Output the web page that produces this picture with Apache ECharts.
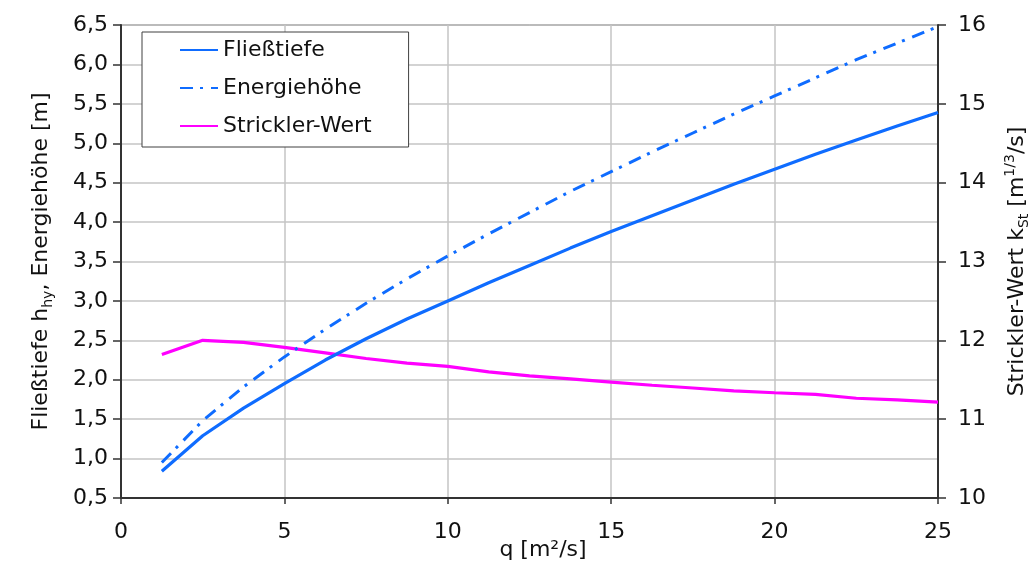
<!DOCTYPE html>
<html>
<head>
<meta charset="utf-8">
<script src="https://cdn.jsdelivr.net/npm/echarts@6/dist/echarts.min.js"></script>
<style>
html,body{margin:0;padding:0;background:#fff;}
#chart{width:1035px;height:563px;}
</style>
</head>
<body>
<div id="chart"></div>
<script>
// Data
var q = [1.25, 2.5, 3.75, 5, 6.25, 7.5, 8.75, 10, 11.25, 12.5, 13.75, 15, 16.25, 17.5, 18.75, 20, 21.25, 22.5, 23.75, 25];
var fliesstiefe = [0.84, 1.29, 1.64, 1.95, 2.25, 2.52, 2.77, 3.00, 3.23, 3.45, 3.67, 3.88, 4.08, 4.28, 4.48, 4.67, 4.86, 5.04, 5.22, 5.39];
var energiehoehe = [0.95, 1.48, 1.91, 2.29, 2.64, 2.97, 3.28, 3.57, 3.85, 4.12, 4.39, 4.64, 4.89, 5.13, 5.37, 5.60, 5.83, 6.06, 6.27, 6.48];
var strickler = [11.82, 12.0, 11.975, 11.91, 11.84, 11.77, 11.71, 11.67, 11.60, 11.55, 11.51, 11.47, 11.43, 11.395, 11.36, 11.335, 11.315, 11.265, 11.245, 11.215];
var seriesNames = ['Fließtiefe', 'Energiehöhe', 'Strickler-Wert'];

function pairs(xs, ys){ return xs.map(function(x,i){ return [x, ys[i]]; }); }

var FONT = 'DejaVu Sans';
var chart = echarts.init(document.getElementById('chart'), null, {renderer:'canvas'});
var blue = '#0f6cff', pink = '#ff00ff';

chart.setOption({
  backgroundColor: '#fff',
  animation: false,
  textStyle: {fontFamily: FONT, color: '#111'},
  grid: {left: 121, right: 97, top: 25, bottom: 65, show: true, borderColor: '#404040', borderWidth: 1,
         containLabel: false, outerBoundsMode: 'none'},
  legend: {
    orient: 'vertical', left: 142, top: 32,
    backgroundColor: '#fff', borderColor: '#404040', borderWidth: 1,
    padding: [6, 37, 9, 37],
    itemWidth: 38, itemHeight: 14, itemGap: 14,
    itemStyle: {opacity: 0},
    textStyle: {fontFamily: FONT, fontSize: 22, color: '#111', lineHeight: 24},
    data: seriesNames
  },
  xAxis: {
    type: 'value', min: 0, max: 25, interval: 5,
    name: 'q [m²/s]', nameLocation: 'middle', nameGap: 41, nameMoveOverlap: false,
    nameTextStyle: {fontFamily: FONT, fontSize: 22, color: '#111', padding: [0, 0, 0, 27]},
    axisLine: {show: true, lineStyle: {color: '#333', width: 2}},
    axisTick: {show: true, length: 6, lineStyle: {color: '#333', width: 1.5}},
    axisLabel: {fontFamily: FONT, fontSize: 22, color: '#111', margin: 23},
    splitLine: {show: true, lineStyle: {color: '#c4c4c4', width: 1.5}}
  },
  yAxis: [{
    type: 'value', min: 0.5, max: 6.5, interval: 0.5, position: 'left',
    name: 'Fließtiefe h{sub|hy}, Energiehöhe [m]', nameLocation: 'middle', nameGap: 66,
    nameTextStyle: {fontFamily: FONT, fontSize: 22, color: '#111', lineHeight: 28,
      rich: {sub: {fontFamily: FONT, fontSize: 14, lineHeight: 14, verticalAlign: 'bottom', color: '#111'}}},
    axisLine: {show: true, lineStyle: {color: '#333', width: 2}},
    axisTick: {show: true, length: 8, lineStyle: {color: '#333', width: 1.5}},
    axisLabel: {fontFamily: FONT, fontSize: 22, color: '#111', margin: 13, padding: [3, 0, 0, 0],
      formatter: function(v){ return v.toFixed(1).replace('.', ','); }},
    splitLine: {show: true, lineStyle: {color: '#c4c4c4', width: 1.5}}
  }, {
    type: 'value', min: 10, max: 16, interval: 1, position: 'right',
    name: 'Strickler-Wert k{sub|St} [m{sup|1/3}/s]', nameLocation: 'middle', nameGap: 65,
    nameTextStyle: {fontFamily: FONT, fontSize: 22, color: '#111', lineHeight: 28,
      rich: {
        sub: {fontFamily: FONT, fontSize: 14, lineHeight: 14, verticalAlign: 'bottom', color: '#111'},
        sup: {fontFamily: FONT, fontSize: 14, lineHeight: 14, verticalAlign: 'top', color: '#111'}
      }},
    axisLine: {show: true, lineStyle: {color: '#333', width: 2}},
    axisTick: {show: true, length: 8, lineStyle: {color: '#333', width: 1.5}},
    axisLabel: {fontFamily: FONT, fontSize: 22, color: '#111', margin: 20, padding: [3, 0, 0, 0]},
    splitLine: {show: false}
  }],
  series: [{
    name: seriesNames[0], type: 'line', yAxisIndex: 0, symbol: 'none',
    data: pairs(q, fliesstiefe),
    lineStyle: {color: blue, width: 3.2}, itemStyle: {color: blue}, z: 3
  }, {
    name: seriesNames[1], type: 'line', yAxisIndex: 0, symbol: 'none',
    data: pairs(q, energiehoehe),
    lineStyle: {color: blue, width: 3, type: [13, 7, 3, 8], cap: 'butt'}, itemStyle: {color: blue}, z: 3
  }, {
    name: seriesNames[2], type: 'line', yAxisIndex: 1, symbol: 'none',
    data: pairs(q, strickler),
    lineStyle: {color: pink, width: 3.2}, itemStyle: {color: pink}, z: 2
  }]
});
</script>
</body>
</html>
